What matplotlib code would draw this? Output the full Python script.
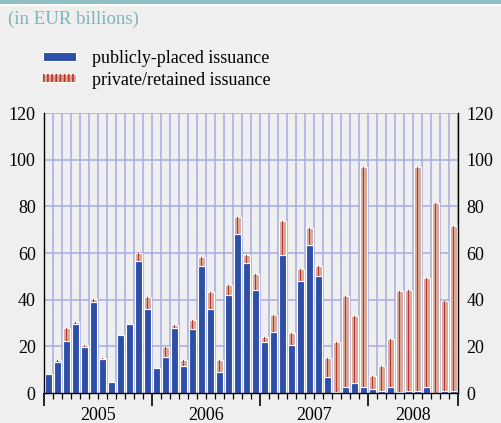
import matplotlib
matplotlib.use("Agg")
import matplotlib.pyplot as plt
from matplotlib.patches import Patch, Rectangle
from matplotlib.legend_handler import HandlerTuple
import numpy as np

years = ["2005", "2006", "2007", "2008"]
months_per_year = [12, 12, 12, 10]

public = [8.1, 13.1, 22.1, 29.4, 19.7, 38.9, 14.7, 4.9, 24.7, 29.4, 56.7, 36.1,
          10.7, 15.6, 27.9, 11.6, 27.3, 54.3, 36.1, 9.1, 41.9, 68.0, 55.9, 44.3,
          22.0, 26.3, 59.1, 20.6, 47.9, 63.3, 50.1, 6.7, 0.6, 2.7, 4.1, 2.6,
          1.9, 0.7, 2.7, 0.3, 1.0, 0.7, 2.7, 0.2, 0.7, 0.7]
private = [0.0, 1.0, 5.6, 0.9, 0.7, 1.3, 0.3, 0.0, 0.0, 0.0, 3.2, 4.9,
           0.0, 4.1, 1.4, 2.4, 4.0, 3.8, 7.4, 4.9, 4.3, 7.4, 3.1, 6.7,
           1.9, 7.3, 14.6, 5.0, 5.3, 7.4, 4.3, 8.1, 21.4, 39.0, 28.7, 94.1,
           5.4, 10.9, 20.6, 43.3, 43.3, 96.0, 46.4, 81.1, 38.7, 70.7]
yticks = [0, 20, 40, 60, 80, 100, 120]

BLUE = "#2e4fa8"
SALMON = "#dba696"
RED = "#b3372a"
GRID = "#aab1e2"
BG = "#efefef"
TEAL = "#8fbec5"
FS = 13

plt.rcParams["font.family"] = ["Liberation Serif", "DejaVu Serif"]
plt.rcParams["hatch.color"] = RED
plt.rcParams["hatch.linewidth"] = 1.2

fig = plt.figure(figsize=(5.02, 4.23), dpi=100, facecolor=BG)

# top teal band
fig.add_artist(Rectangle((0, 1 - 4 / 423), 1, 4 / 423, transform=fig.transFigure,
                         facecolor=TEAL, edgecolor="none"))
fig.add_artist(Rectangle((0, 1 - 6 / 423), 1, 2 / 423, transform=fig.transFigure,
                         facecolor="white", edgecolor="none"))

fig.text(8 / 502, 1 - 19 / 423, "(in EUR billions)", color="#7fb3ba",
         fontsize=13.5, va="center", ha="left")

ax = fig.add_axes([44 / 502, 30 / 423, 414 / 502, 280 / 423])
ax.set_facecolor(BG)

n = len(public)
x = np.arange(n)
pub = np.array(public)
pri = np.array(private)

ax.bar(x, pub, width=0.8, color=BLUE, edgecolor="white", linewidth=0.8, zorder=3)
ax.bar(x, pri, bottom=pub, width=0.8, color=SALMON, edgecolor="white",
       linewidth=0.8, zorder=3)
ax.bar(x, pri, bottom=pub, width=0.16, color=RED, edgecolor="none", zorder=4)

ax.set_xlim(-0.5, n - 0.5)
ax.set_ylim(0, 120)

# grid
for b in np.arange(-0.5, n, 1.0):
    ax.axvline(b, color=GRID, lw=1.2, zorder=1)
for yv in yticks[1:]:
    ax.axhline(yv, color=GRID, lw=1.2, zorder=1)

ax.set_yticks(yticks)
ax.set_yticklabels([str(v) for v in yticks])
ax.tick_params(axis="y", length=0, labelsize=FS, pad=6,
               left=True, right=True, labelleft=True, labelright=True)

# x ticks
bounds = np.concatenate([[0], np.cumsum(months_per_year)]) - 0.5
ax.set_xticks(bounds)
ax.set_xticklabels([])
ax.tick_params(axis="x", which="major", length=9, width=1.2, color="black")
ax.set_xticks(np.arange(-0.5, n, 1.0), minor=True)
ax.tick_params(axis="x", which="minor", length=4, width=0.9, color="black")
centers = (bounds[:-1] + bounds[1:]) / 2
for c, yr in zip(centers, years):
    ax.text(c, -0.08, yr, transform=ax.get_xaxis_transform(), ha="center",
            va="center", fontsize=FS)

for s in ["left", "right", "bottom"]:
    ax.spines[s].set_color("black")
    ax.spines[s].set_linewidth(1.0)
    ax.spines[s].set_zorder(5)
ax.spines["top"].set_visible(False)

# legend
h_pub = Patch(facecolor=BLUE, edgecolor="white", linewidth=0.8)
h_pri_bg = Patch(facecolor=SALMON, edgecolor="white", linewidth=0.8)
h_pri_hatch = Patch(facecolor="none", hatch="||||")
leg = fig.legend([h_pub, (h_pri_bg, h_pri_hatch)],
                 ["publicly-placed issuance", "private/retained issuance"],
                 handler_map={tuple: HandlerTuple(ndivide=1, pad=0)},
                 loc="upper left", bbox_to_anchor=(43 / 502, 1 - 50 / 423),
                 frameon=False, fontsize=FS, handlelength=1.83, handleheight=0.36,
                 handletextpad=0.9, labelspacing=0.25, borderaxespad=0,
                 borderpad=0)

fig.savefig("out.png", dpi=100, facecolor=BG)
